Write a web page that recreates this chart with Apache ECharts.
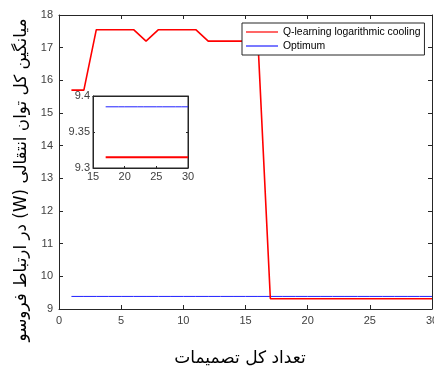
<!DOCTYPE html>
<html><head><meta charset="utf-8">
<script src="https://cdn.jsdelivr.net/npm/echarts@6/dist/echarts.min.js"></script>
<style>html,body{margin:0;padding:0;background:#fff}#c{width:434px;height:373px}</style>
</head><body><div id="c"></div>
<script>
var iterations = [1,2,3,4,5,6,7,8,9,10,11,12,13,14,15,16,17,18,19,20,21,22,23,24,25,26,27,28,29,30];
var qlearning = [15.7,15.7,17.55,17.55,17.55,17.55,17.2,17.55,17.55,17.55,17.55,17.2,17.2,17.2,17.2,17.2,9.315,9.315,9.315,9.315,9.315,9.315,9.315,9.315,9.315,9.315,9.315,9.315,9.315,9.315];
var optimum = [9.385,9.385,9.385,9.385,9.385,9.385,9.385,9.385,9.385,9.385,9.385,9.385,9.385,9.385,9.385,9.385,9.385,9.385,9.385,9.385,9.385,9.385,9.385,9.385,9.385,9.385,9.385,9.385,9.385,9.385];
var insetStart = 17;
var seriesNames = ['Q-learning logarithmic cooling','Optimum'];
var xLabel = 'تعداد کل تصمیمات';
var yLabel = 'میانگین کل توان انتقالی (W) در ارتباط فروسو';

function pairs(xs, ys, from){ var r=[]; for(var i=0;i<xs.length;i++){ if(from==null||xs[i]>=from) r.push([xs[i],ys[i]]);} return r; }
function rtl(s){ return '\u202B' + s + '\u202C'; }

var axisCol = '#262626', labCol = '#404040';
var fontF = 'Liberation Sans, Arial, sans-serif';
function ax(base){ return Object.assign({
  axisLine:{show:true,onZero:false,lineStyle:{color:axisCol,width:1}},
  axisTick:{show:true,inside:true,length:4,lineStyle:{color:axisCol}},
  splitLine:{show:false},
  axisLabel:{color:labCol,fontSize:11,fontFamily:fontF,margin:6}
}, base); }
var insetTick = {show:true,inside:true,length:2,lineStyle:{color:axisCol}};

var chart = echarts.init(document.getElementById('c'));
chart.setOption({
  animation:false,
  backgroundColor:'#fff',
  graphic:[
    {type:'text',x:22,y:180,rotation:Math.PI/2,z:20,
      style:{text:rtl(yLabel),fontSize:16.8,fontFamily:'DejaVu Sans',fill:'#000',align:'center',verticalAlign:'middle'}},
    {type:'text',x:240,y:359,z:20,
      style:{text:rtl(xLabel),fontSize:17,fontFamily:'DejaVu Sans',fill:'#000',align:'center',verticalAlign:'middle'}}
  ],
  grid:[
    {left:59,top:15,width:373,height:294,outerBoundsMode:'none',containLabel:false},
    {left:93,top:96,width:95,height:72,show:true,backgroundColor:'#fff',borderColor:axisCol,borderWidth:1,z:5,outerBoundsMode:'none',containLabel:false}
  ],
  legend:{
    left:242, top:23, orient:'vertical', padding:[3,4,3,4],
    borderColor:'#262626', borderWidth:1, backgroundColor:'#fff',
    icon:'rect', itemWidth:32, itemHeight:1.2, itemGap:2,
    textStyle:{fontSize:10.4,fontFamily:fontF,color:'#000',lineHeight:12},
    data:seriesNames, z:10
  },
  xAxis:[
    ax({type:'value',gridIndex:0,min:0,max:30,interval:5,position:'bottom'}),
    ax({type:'value',gridIndex:0,min:0,max:30,interval:5,position:'top',axisLabel:{show:false}}),
    ax({type:'value',gridIndex:1,min:15,max:30,interval:5,position:'bottom',z:7,axisTick:insetTick,axisLabel:{color:labCol,fontSize:11,fontFamily:fontF,margin:3}}),
    ax({type:'value',gridIndex:1,min:15,max:30,interval:5,position:'top',z:7,axisTick:{show:false},axisLabel:{show:false}})
  ],
  yAxis:[
    ax({type:'value',gridIndex:0,min:9,max:18,interval:1,position:'left'}),
    ax({type:'value',gridIndex:0,min:9,max:18,interval:1,position:'right',axisLabel:{show:false}}),
    ax({type:'value',gridIndex:1,min:9.3,max:9.4,interval:0.05,position:'left',z:7,axisTick:insetTick,axisLabel:{color:labCol,fontSize:11,fontFamily:fontF,margin:3,formatter:function(v){return +v.toFixed(2)+'';}}}),
    ax({type:'value',gridIndex:1,min:9.3,max:9.4,interval:0.05,position:'right',z:7,axisTick:insetTick,axisLabel:{show:false}})
  ],
  series:[
    {name:seriesNames[0],type:'line',xAxisIndex:0,yAxisIndex:0,data:pairs(iterations,qlearning),symbol:'none',lineStyle:{color:'#ff0000',width:1.6},itemStyle:{color:'#ff0000'},z:3},
    {name:seriesNames[1],type:'line',xAxisIndex:0,yAxisIndex:0,data:pairs(iterations,optimum),symbol:'none',lineStyle:{color:'#2020ff',width:1},itemStyle:{color:'#2020ff'},z:2},
    {name:seriesNames[0],type:'line',xAxisIndex:2,yAxisIndex:2,data:pairs(iterations,qlearning,insetStart),symbol:'none',lineStyle:{color:'#ff0000',width:2},z:8},
    {name:seriesNames[1],type:'line',xAxisIndex:2,yAxisIndex:2,data:pairs(iterations,optimum,insetStart),symbol:'none',lineStyle:{color:'#2020ff',width:1},z:8}
  ]
});
</script></body></html>
